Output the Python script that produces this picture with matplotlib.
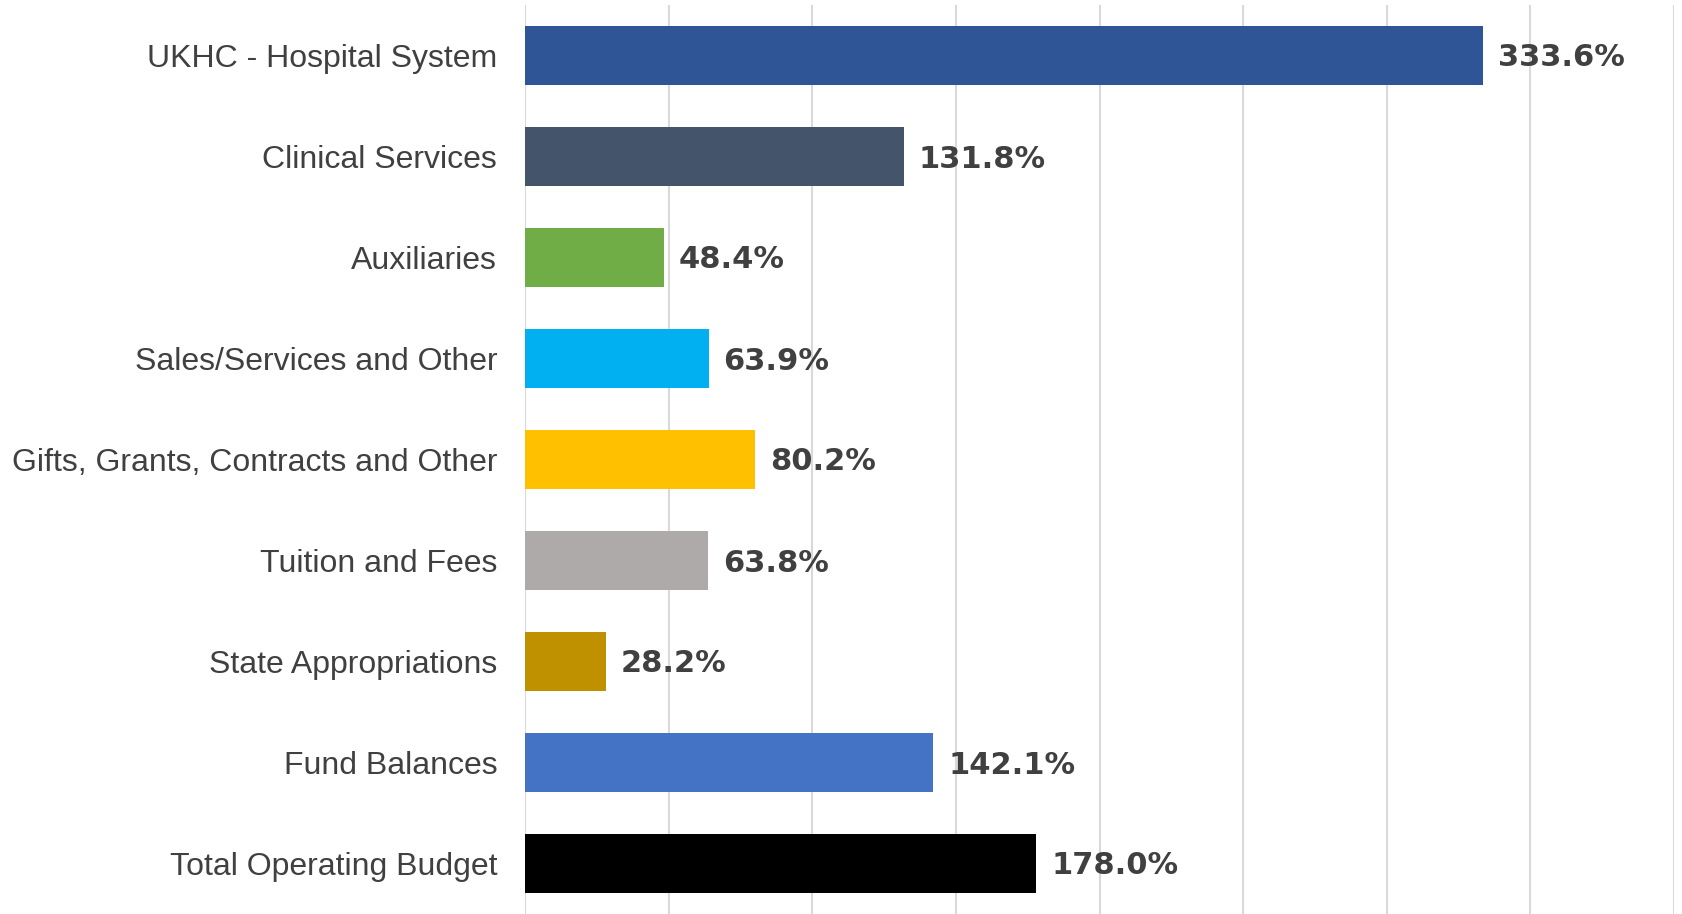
import matplotlib
matplotlib.use("Agg")
import matplotlib.pyplot as plt

categories = ["UKHC - Hospital System", "Clinical Services", "Auxiliaries",
              "Sales/Services and Other", "Gifts, Grants, Contracts and Other",
              "Tuition and Fees", "State Appropriations", "Fund Balances",
              "Total Operating Budget"]
values = [333.6, 131.8, 48.4, 63.9, 80.2, 63.8, 28.2, 142.1, 178.0]
colors = ["#2F5597", "#44546A", "#70AD47", "#00B0F0", "#FFC000",
          "#AEAAAA", "#BF9000", "#4472C4", "#000000"]

plt.rcParams['font.family'] = ['Liberation Sans', 'DejaVu Sans']

fig = plt.figure(figsize=(16.83, 9.14), dpi=100)
ax = fig.add_axes([525/1683, 0.0, (1674-525)/1683, 1 - 5/914])

y = list(range(len(categories)))
ax.barh(y, values, height=0.58, color=colors, zorder=3)
ax.set_ylim(len(categories) - 0.5, -0.5)
ax.set_xlim(0, 400)
ax.set_xticks(range(0, 401, 50))
ax.xaxis.grid(True, color="#D9D9D9", linewidth=1.5, zorder=0)
ax.tick_params(axis='x', length=0, labelbottom=False)
ax.tick_params(axis='y', length=0, pad=20, labelsize=23, labelcolor="#404040")
ax.set_yticks(y)
ax.set_yticklabels(categories)
for s in ax.spines.values():
    s.set_visible(False)

for yi, v in zip(y, values):
    ax.annotate(f"{v:.1f}%", (v, yi), xytext=(15, -11), textcoords="offset pixels",
                va="baseline", ha="left", fontsize=22, fontweight="bold",
                family="DejaVu Sans", color="#404040", zorder=4)

fig.savefig("out.png", dpi=100, facecolor="white")
